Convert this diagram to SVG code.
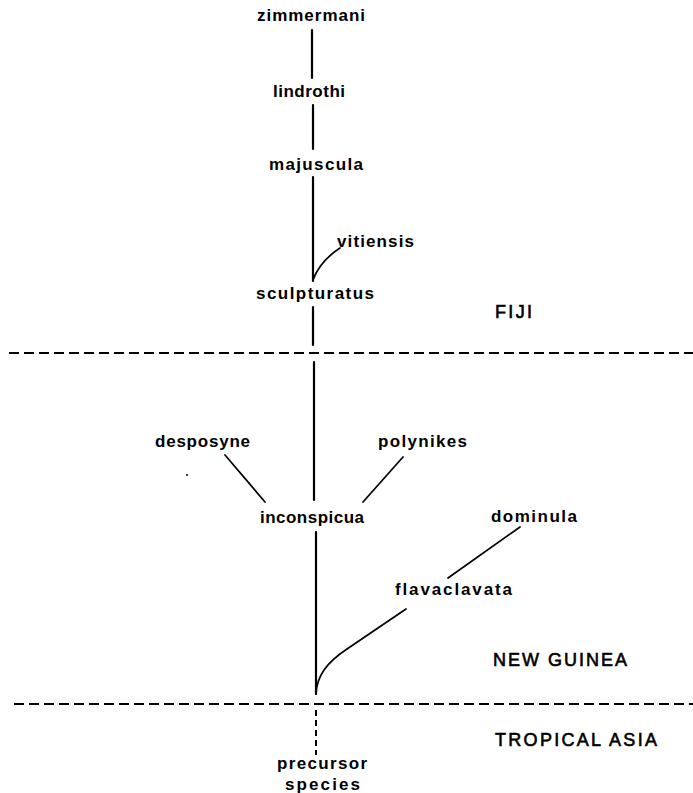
<svg xmlns="http://www.w3.org/2000/svg" width="693" height="793" viewBox="0 0 693 793">
<style>
text{font-family:"Liberation Sans",Arial,sans-serif;font-weight:bold;font-size:17px;fill:#000}
.cap{font-size:18px;font-weight:normal;stroke:#000;stroke-width:0.6}
.ln{stroke:#000;stroke-width:2.2;fill:none;stroke-linecap:round}
.br{stroke:#000;stroke-width:1.7;fill:none;stroke-linecap:round}
.dash{stroke:#000;stroke-width:2;fill:none;stroke-dasharray:10 5}
.vdash{stroke:#000;stroke-width:2;fill:none;stroke-dasharray:6 4}
</style>
<rect width="693" height="793" fill="#fff"/>
<g id="connectors">
<line class="ln" x1="312" y1="30" x2="312" y2="78"/>
<line class="ln" x1="313" y1="105" x2="313" y2="149"/>
<line class="ln" x1="313" y1="177" x2="313" y2="281"/>
<path class="br" d="M313,280 Q320,261 340,248"/>
<line class="ln" x1="313" y1="307" x2="313" y2="345"/>
<line class="ln" x1="314" y1="362" x2="314" y2="500"/>
<line class="br" x1="225" y1="455" x2="265" y2="502"/>
<line class="br" x1="403" y1="457" x2="363" y2="502"/>
<line class="ln" x1="316" y1="532" x2="316" y2="694"/>
<line class="br" x1="520" y1="527" x2="448" y2="578"/>
<path class="br" d="M406,609 L347,649 C326,663 317,676 316,694"/>
<line class="vdash" x1="316" y1="710" x2="316" y2="755"/>
</g>
<g id="boundaries">
<line class="dash" x1="9" y1="353" x2="693" y2="353"/>
<line class="dash" x1="14" y1="704" x2="693" y2="704"/>
<circle cx="187" cy="475" r="1" fill="#000"/>
</g>
<g id="zimmermani"><text x="257" y="21" textLength="108" lengthAdjust="spacing">zimmermani</text></g>
<g id="lindrothi"><text x="273" y="97" textLength="72" lengthAdjust="spacing">lindrothi</text></g>
<g id="majuscula"><text x="269" y="170" textLength="94" lengthAdjust="spacing">majuscula</text></g>
<g id="vitiensis"><text x="337" y="247" textLength="77" lengthAdjust="spacing">vitiensis</text></g>
<g id="sculpturatus"><text x="256" y="299" textLength="118" lengthAdjust="spacing">sculpturatus</text></g>
<g id="fiji"><text class="cap" x="495" y="318" textLength="37" lengthAdjust="spacing">FIJI</text></g>
<g id="desposyne"><text x="155" y="447" textLength="95" lengthAdjust="spacing">desposyne</text></g>
<g id="polynikes"><text x="378" y="447" textLength="89" lengthAdjust="spacing">polynikes</text></g>
<g id="inconspicua"><text x="260" y="523" textLength="104" lengthAdjust="spacing">inconspicua</text></g>
<g id="dominula"><text x="491" y="522" textLength="86" lengthAdjust="spacing">dominula</text></g>
<g id="flavaclavata"><text x="395" y="595" textLength="117" lengthAdjust="spacing">flavaclavata</text></g>
<g id="newguinea"><text class="cap" x="493" y="666" textLength="134" lengthAdjust="spacing">NEW GUINEA</text></g>
<g id="tropicalasia"><text class="cap" x="495" y="746" textLength="162" lengthAdjust="spacing">TROPICAL ASIA</text></g>
<g id="precursor"><text x="277" y="769" textLength="90" lengthAdjust="spacing">precursor</text><text x="285" y="790" textLength="75" lengthAdjust="spacing">species</text></g>
</svg>
